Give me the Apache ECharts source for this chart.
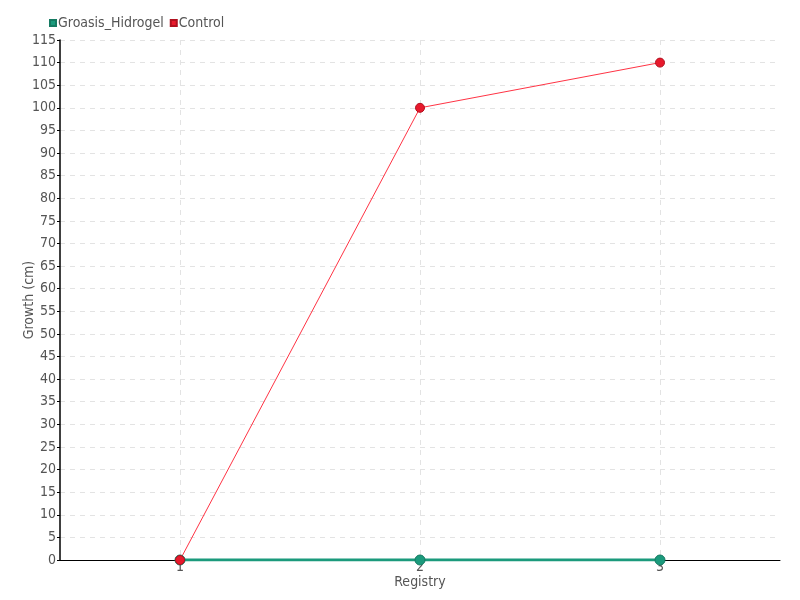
<!DOCTYPE html>
<html><head><meta charset="utf-8">
<script src="https://cdn.jsdelivr.net/npm/echarts@6/dist/echarts.min.js"></script>
<style>html,body{margin:0;padding:0;background:#fff}#c{width:800px;height:600px}</style>
</head><body><div id="c"></div>
<script>
const categories = ['1', '2', '3'];
const hidrogel = [0, 0, 0];
const control = [0, 100, 110];
const seriesNames = ['Groasis_Hidrogel', 'Control'];
const FONT = '"Liberation Sans Narrow", "DejaVu Sans Condensed", sans-serif';
const chart = echarts.init(document.getElementById('c'));
chart.setOption({
  animation: false,
  textStyle: { fontFamily: FONT },
  legend: {
    left: 44, top: 11,
    itemWidth: 6, itemHeight: 6, itemGap: 6,
    icon: 'rect',
    textStyle: { fontFamily: FONT, fontSize: 14, color: '#555', padding: [0, 0, 0, -3] },
    data: seriesNames
  },
  grid: { left: 60, right: 20, top: 40, bottom: 40, containLabel: false, outerBoundsMode: 'none' },
  xAxis: {
    type: 'category', data: categories, boundaryGap: true,
    name: 'Registry', nameLocation: 'middle', nameGap: 15, nameMoveOverlap: false,
    nameTextStyle: { fontFamily: FONT, fontSize: 14, color: '#555' },
    axisLine: { lineStyle: { color: '#000', width: 1 } },
    axisTick: { alignWithLabel: true, length: 12, lineStyle: { color: '#555' } },
    axisLabel: { margin: 0, fontFamily: FONT, fontSize: 14, color: '#555' },
    splitLine: { show: true, alignWithLabel: true, lineStyle: { type: [5, 5], color: '#e3e3e3' } }
  },
  yAxis: {
    type: 'value', min: 0, max: 115, interval: 5,
    name: 'Growth (cm)', nameLocation: 'middle', nameGap: 24, nameMoveOverlap: false,
    nameTextStyle: { fontFamily: FONT, fontSize: 14, color: '#555' },
    axisLine: { show: true, lineStyle: { color: '#000', width: 1.5 } },
    axisTick: { show: true, length: 3, lineStyle: { color: '#000' } },
    axisLabel: { margin: 4, fontFamily: FONT, fontSize: 14, color: '#555' },
    splitLine: { show: true, lineStyle: { type: [5, 5], color: '#e3e3e3' } }
  },
  series: [
    {
      name: seriesNames[0], type: 'line', data: hidrogel,
      symbol: 'circle', symbolSize: 10,
      itemStyle: { color: '#1b9a7c', borderColor: '#157a62', borderWidth: 1 },
      lineStyle: { color: '#1b9a7c', width: 3 }
    },
    {
      name: seriesNames[1], type: 'line', data: control,
      symbol: 'circle', symbolSize: 9,
      itemStyle: { color: '#e8192c', borderColor: '#b0101e', borderWidth: 1 },
      lineStyle: { color: '#ff3344', width: 1 }
    }
  ]
});
</script></body></html>
